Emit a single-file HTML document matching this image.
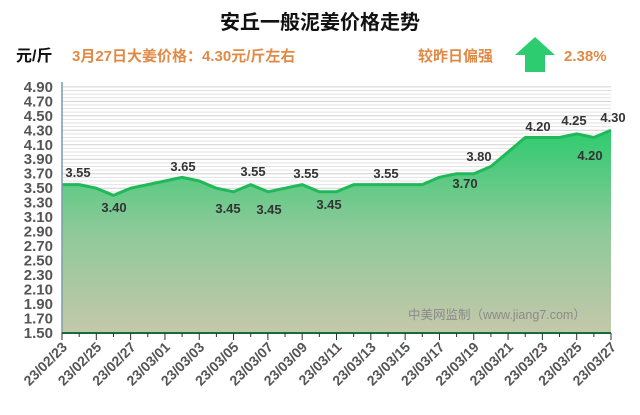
<!DOCTYPE html>
<html><head><meta charset="utf-8"><style>
body{margin:0;background:#fff;width:640px;height:410px;overflow:hidden}
text{font-family:"Liberation Sans","Noto Sans CJK SC",sans-serif}
</style></head><body>
<svg width="640" height="410" xmlns="http://www.w3.org/2000/svg">
<defs>
<linearGradient id="g" x1="0" y1="0" x2="0" y2="1">
<stop offset="0" stop-color="#2fcb6e"/><stop offset="0.5" stop-color="#8ec99a"/><stop offset="1" stop-color="#c4c8aa"/>
</linearGradient>
</defs>
<text x="320" y="29" text-anchor="middle" font-size="20" font-weight="bold" fill="#111">安丘一般泥姜价格走势</text>
<text x="16" y="61" font-size="16" font-weight="bold" fill="#111">元/斤</text>
<text x="72" y="61" font-size="15" font-weight="bold" fill="#e08a45">3月27日大姜价格：4.30元/斤左右</text>
<text x="418" y="61" font-size="15" font-weight="bold" fill="#e08a45">较昨日偏强</text>
<polygon points="535,37 555,55 545,55 545,72 525,72 525,55 515,55" fill="#2ecc71"/>
<text x="564" y="61" font-size="15" font-weight="bold" fill="#e08a45">2.38%</text>
<g id="grid" stroke="#e2e2e2" stroke-width="1"></g>
<path id="area" fill="url(#g)"/>
<path id="line" fill="none" stroke="#1fb95a" stroke-width="3" stroke-linejoin="round"/>
<line x1="62" y1="82" x2="62" y2="333" stroke="#7a9ab0" stroke-width="1.5"/>
<line x1="62" y1="333" x2="611" y2="333" stroke="#1a6a3a" stroke-width="2"/>
<g id="ticks" stroke="#1a3a2a" stroke-width="1"></g>
<g id="yl" font-size="15" font-weight="bold" fill="#555" text-anchor="end"></g>
<g id="xl" font-size="14" font-weight="bold" fill="#555" text-anchor="end"></g>
<text x="408" y="319" font-size="12.5" fill="#8a8a8a">中美网监制（www.jiang7.com）</text>
<g font-size="13" font-weight="bold" fill="#333" text-anchor="middle">
<text x="78" y="177">3.55</text><text x="114" y="212">3.40</text><text x="183" y="171">3.65</text>
<text x="228" y="213">3.45</text><text x="253" y="176">3.55</text><text x="269" y="214">3.45</text>
<text x="306" y="178">3.55</text><text x="329" y="209">3.45</text><text x="386" y="178">3.55</text>
<text x="465" y="188">3.70</text><text x="479" y="161">3.80</text><text x="538" y="131">4.20</text>
<text x="574" y="125">4.25</text><text x="590" y="160">4.20</text><text x="613" y="122">4.30</text>
</g>
</svg>
<script>
var v=[3.55,3.55,3.50,3.40,3.50,3.55,3.60,3.65,3.60,3.50,3.45,3.55,3.45,3.50,3.55,3.45,3.45,3.55,3.55,3.55,3.55,3.55,3.65,3.70,3.70,3.80,4.00,4.20,4.20,4.20,4.25,4.20,4.30];
function X(i){return 62+i*549/32}function Y(a){return 333-(a-1.5)*72.4}
var ns="http://www.w3.org/2000/svg";
var d="";v.forEach(function(a,i){d+=(i?"L":"M")+X(i).toFixed(1)+","+Y(a).toFixed(1)});
document.getElementById("line").setAttribute("d",d);
document.getElementById("area").setAttribute("d",d+"L611,333L62,333Z");
var g=document.getElementById("grid");
for(var k=0;k<=68;k++){var y=333-k*3.62;var l=document.createElementNS(ns,"line");l.setAttribute("x1",62);l.setAttribute("x2",611);l.setAttribute("y1",y);l.setAttribute("y2",y);if(k%4==0)l.setAttribute("stroke","#d0d0d0");g.appendChild(l);}
var yl=document.getElementById("yl");
for(var k=0;k<=17;k++){var val=1.5+k*0.2;var t=document.createElementNS(ns,"text");t.setAttribute("x",53);t.setAttribute("y",Y(val)+5);t.textContent=val.toFixed(2);yl.appendChild(t);}
var tk=document.getElementById("ticks"),xl=document.getElementById("xl");
var dates=["23/02/23","23/02/25","23/02/27","23/03/01","23/03/03","23/03/05","23/03/07","23/03/09","23/03/11","23/03/13","23/03/15","23/03/17","23/03/19","23/03/21","23/03/23","23/03/25","23/03/27"];
for(var i=0;i<=32;i++){var l=document.createElementNS(ns,"line");var x=X(i);l.setAttribute("x1",x);l.setAttribute("x2",x);l.setAttribute("y1",333);l.setAttribute("y2",i%2?337:340);tk.appendChild(l);
if(i%2==0){var t=document.createElementNS(ns,"text");t.setAttribute("transform","translate("+(x+6)+",348) rotate(-45)");t.textContent=dates[i/2];xl.appendChild(t);}}
</script>
</body></html>
